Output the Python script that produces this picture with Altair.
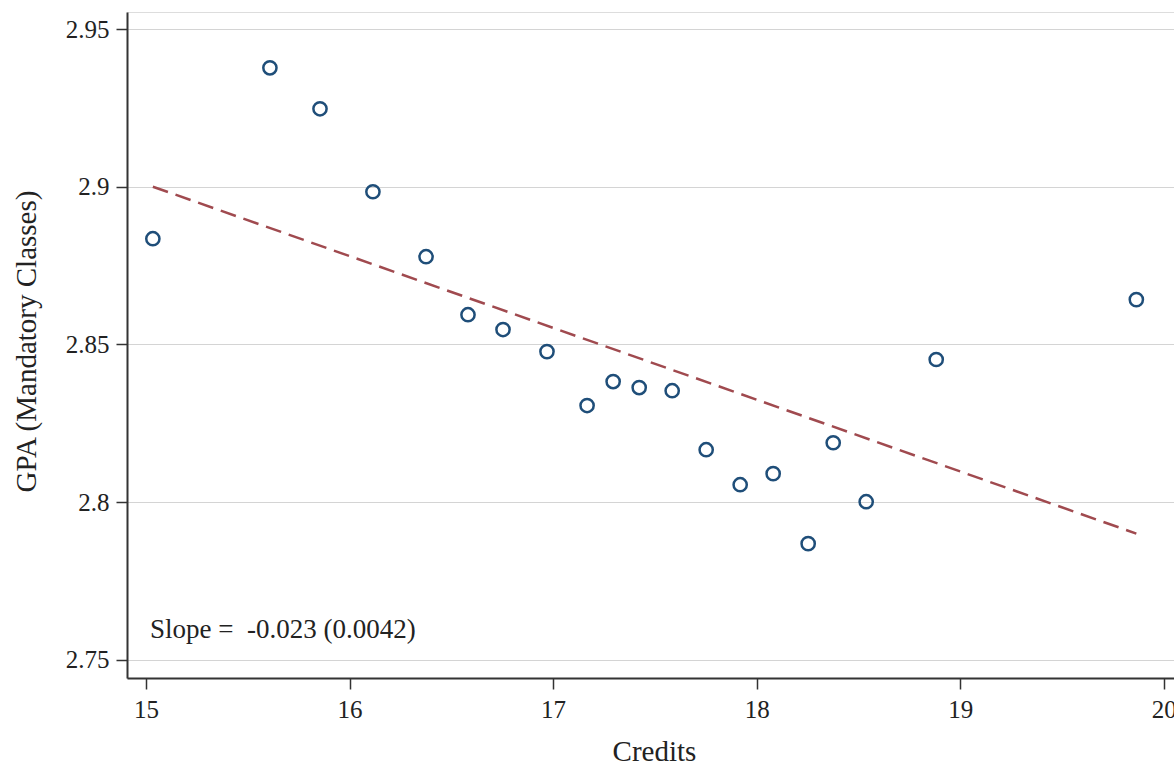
import altair as alt
import pandas as pd

# Binned scatter: Credits vs GPA (mandatory classes)
credits = [15.034, 15.609, 15.855, 16.115, 16.376, 16.582, 16.754, 16.970, 17.167, 17.295,
           17.423, 17.585, 17.752, 17.919, 18.081, 18.253, 18.376, 18.538, 18.882, 19.865]
gpa = [2.8835, 2.9377, 2.9247, 2.8984, 2.8778, 2.8594, 2.8547, 2.8477, 2.8306, 2.8382,
       2.8363, 2.8353, 2.8166, 2.8055, 2.8090, 2.7868, 2.8188, 2.8001, 2.8452, 2.8642]

# Fitted line endpoints
fit_x = [15.034, 19.865]
fit_y = [2.900, 2.790]

x_ticks = [15, 16, 17, 18, 19, 20]
y_ticks = [2.75, 2.8, 2.85, 2.9, 2.95]

note_text = ["Slope =\u00a0\u00a0-0.023 (0.0042)"]
note_x = [15.02]
note_y = [2.7595]

FONT = "Liberation Serif"

pts = pd.DataFrame({"Credits": credits, "GPA": gpa})
fit = pd.DataFrame({"Credits": fit_x, "GPA": fit_y})
note = pd.DataFrame({"Credits": note_x, "GPA": note_y, "label": note_text})

xs = alt.Scale(domain=[14.907, 20.05], nice=False, zero=False)
ys = alt.Scale(domain=[2.7442, 2.9554], nice=False, zero=False)

x_axis = alt.Axis(values=x_ticks, grid=False, title="Credits", labelFontSize=25,
                  titleFontSize=29, titleFontWeight="normal", labelFont=FONT, titleFont=FONT,
                  tickSize=11, tickColor="#333333", tickWidth=1.5, domainColor="#333333",
                  domainWidth=2, labelColor="#222222", titleColor="#222222", labelPadding=8,
                  titleX=527, titleY=73, titleBaseline="middle", titleAnchor="middle",
                  titleAlign="center", format="d")
y_axis = alt.Axis(values=y_ticks, grid=True, gridColor="#d4d4d4", gridWidth=1,
                  title="GPA (Mandatory Classes)", labelFontSize=25, titleFontSize=29,
                  titleFontWeight="normal", labelFont=FONT, titleFont=FONT, tickSize=11,
                  tickColor="#333333", tickWidth=1.5, domainColor="#333333", domainWidth=2,
                  labelColor="#222222", titleColor="#222222", labelPadding=7, format="~g",
                  titleX=-101, titleY=329, titleAngle=-90, titleBaseline="middle",
                  titleAlign="center")

points = alt.Chart(pts).mark_point(
    shape="circle", filled=False, size=175, strokeWidth=2.5, color="#1f4e79", opacity=1
).encode(
    x=alt.X("Credits:Q", scale=xs, axis=x_axis),
    y=alt.Y("GPA:Q", scale=ys, axis=y_axis),
)

line = alt.Chart(fit).mark_line(
    color="#a04a4f", strokeWidth=2.5, strokeDash=[16, 8]
).encode(
    x=alt.X("Credits:Q", scale=xs),
    y=alt.Y("GPA:Q", scale=ys),
)

txt = alt.Chart(note).mark_text(
    align="left", baseline="middle", font=FONT, fontSize=27, color="#222222"
).encode(
    x=alt.X("Credits:Q", scale=xs),
    y=alt.Y("GPA:Q", scale=ys),
    text="label:N",
)

chart = alt.layer(line, points, txt).properties(
    width=1047, height=666,
    autosize=alt.AutoSizeParams(type="none"),
    padding={"left": 127, "top": 12, "right": 0, "bottom": 87},
).configure_view(stroke=None).configure(background="white")

chart.save("out.html", embed_options={"renderer": "svg", "actions": False})
